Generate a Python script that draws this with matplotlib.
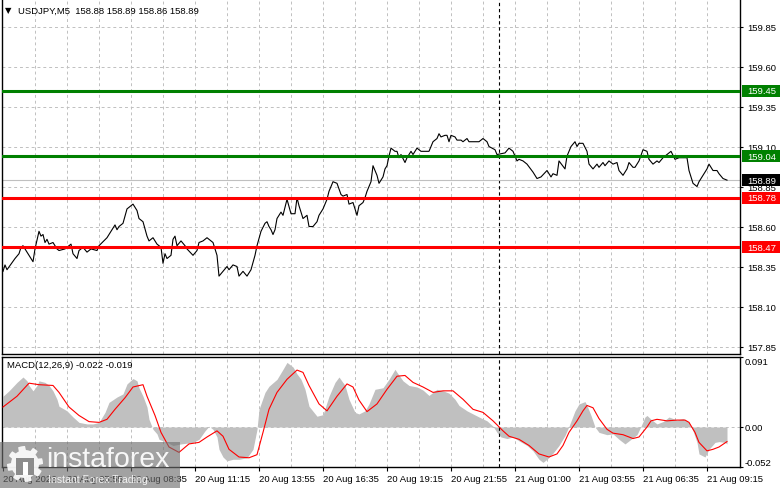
import numpy as np
import matplotlib.pyplot as plt
from matplotlib.patches import Rectangle, Polygon
from matplotlib.transforms import blended_transform_factory

plt.rcParams['font.family'] = ['Liberation Sans', 'DejaVu Sans']

# 5-minute bars, 0 = first visible bar; close price
price_bar = [0, 1, 2, 6, 8, 9, 10, 12, 15, 16, 18, 19, 20, 21, 22, 23, 25, 27, 28, 31,
             32, 34, 35, 37, 38, 40, 42, 44, 47, 48, 52, 54, 56, 57, 58, 60, 62, 65, 67, 68,
             70, 72, 73, 75, 77, 79, 80, 81, 82, 84, 85, 86, 87, 89, 91, 92, 95, 97, 98, 100,
             102, 105, 107, 108, 110, 112, 113, 115, 117, 118, 120, 122, 124, 126, 127, 129, 131, 132, 133, 134,
             135, 136, 137, 139, 140, 142, 144, 146, 147, 148, 150, 152, 153, 155, 157, 158, 160, 162, 163, 165,
             167, 169, 170, 172, 173, 175, 177, 178, 180, 181, 182, 184, 185, 186, 187, 188, 190, 191, 192, 193,
             194, 196, 197, 198, 199, 201, 202, 204, 205, 206, 207, 209, 211, 213, 215, 217, 218, 219, 221, 222,
             223, 224, 226, 227, 229, 230, 232, 233, 235, 237, 238, 240, 242, 243, 246, 247, 251, 253, 255, 257,
             258, 260, 262, 265, 267, 269, 272, 274, 275, 277, 278, 281, 282, 284, 286, 287, 288, 290, 292, 293,
             295, 297, 298, 300, 301, 303, 305, 307, 308, 310, 312, 313, 315, 316, 318, 320, 322, 323, 325, 327,
             328, 330, 332, 334, 336, 338, 342, 343, 345, 347, 348, 350, 352, 353, 355, 357, 358, 360, 362]
price_close = [158.32, 158.36, 158.33, 158.40, 158.43, 158.47, 158.48, 158.44, 158.38, 158.46,
               158.57, 158.54, 158.55, 158.50, 158.52, 158.49, 158.50, 158.46, 158.45, 158.46,
               158.47, 158.49, 158.43, 158.40, 158.45, 158.47, 158.44, 158.46, 158.45, 158.48,
               158.53, 158.57, 158.61, 158.58, 158.60, 158.62, 158.71, 158.74, 158.70, 158.65,
               158.63, 158.54, 158.51, 158.53, 158.49, 158.47, 158.37, 158.43, 158.40, 158.42,
               158.52, 158.54, 158.48, 158.51, 158.48, 158.46, 158.42, 158.45, 158.50, 158.51,
               158.53, 158.50, 158.42, 158.29, 158.32, 158.35, 158.33, 158.36, 158.35, 158.29,
               158.32, 158.29, 158.33, 158.42, 158.48, 158.57, 158.62, 158.63, 158.60, 158.58,
               158.55, 158.58, 158.65, 158.69, 158.67, 158.77, 158.68, 158.68, 158.78, 158.73,
               158.65, 158.67, 158.60, 158.60, 158.63, 158.67, 158.71, 158.77, 158.82, 158.88,
               158.87, 158.80, 158.79, 158.80, 158.74, 158.75, 158.67, 158.73, 158.75, 158.78,
               158.82, 158.88, 158.98, 158.95, 158.92, 158.87, 158.91, 158.96, 158.98, 159.04,
               159.09, 159.07, 159.07, 159.03, 159.05, 159.00, 159.03, 159.07, 159.05, 159.07,
               159.09, 159.07, 159.07, 159.07, 159.13, 159.15, 159.18, 159.16, 159.17, 159.17,
               159.13, 159.17, 159.16, 159.14, 159.14, 159.13, 159.15, 159.13, 159.13, 159.13,
               159.13, 159.15, 159.13, 159.10, 159.08, 159.05, 159.06, 159.09, 159.07, 159.01,
               159.02, 159.01, 158.99, 158.94, 158.90, 158.91, 158.95, 158.91, 158.93, 158.92,
               159.01, 158.96, 159.04, 159.10, 159.13, 159.10, 159.12, 159.12, 159.07, 158.99,
               158.96, 158.99, 158.97, 159.00, 158.98, 159.01, 158.99, 159.00, 158.95, 158.92,
               158.96, 159.00, 158.97, 158.97, 159.01, 159.08, 159.07, 159.02, 158.99, 159.01,
               159.00, 159.03, 159.05, 159.07, 159.02, 159.03, 159.03, 158.95, 158.87, 158.85,
               158.88, 158.92, 158.96, 158.99, 158.95, 158.95, 158.93, 158.90, 158.89]

# MACD(12,26,9) histogram (main) and signal line
macd_bar = [0, 3, 7, 10, 12, 13, 15, 17, 18, 21, 23, 25, 27, 28, 32, 35, 38, 42, 45, 48,
            51, 53, 57, 60, 62, 65, 67, 68, 70, 72, 73, 75, 77, 78, 82, 85, 89, 92, 95, 98,
            101, 103, 105, 107, 108, 110, 112, 115, 118, 122, 125, 127, 128, 131, 133, 137, 140, 142, 145, 147,
            149, 151, 153, 157, 160, 163, 166, 168, 171, 173, 176, 178, 181, 183, 186, 190, 193, 196, 197, 200,
            203, 207, 210, 213, 217, 220, 223, 226, 228, 232, 235, 238, 242, 245, 247, 249, 252, 255, 258, 262,
            265, 268, 270, 272, 275, 278, 281, 283, 286, 288, 291, 292, 294, 296, 298, 302, 305, 308, 311, 313,
            317, 319, 321, 322, 324, 327, 330, 333, 337, 340, 343, 345, 347, 348, 351, 353, 356, 358, 361, 362]
macd_hist = [0.040, 0.047, 0.058, 0.065, 0.060, 0.054, 0.047, 0.054, 0.060, 0.058,
             0.054, 0.047, 0.036, 0.027, 0.021, 0.013, 0.006, 0.004, 0.004, 0.006,
             0.019, 0.032, 0.039, 0.043, 0.056, 0.063, 0.060, 0.051, 0.040, 0.026,
             0.010, -0.003, -0.009, -0.016, -0.020, -0.024, -0.022, -0.021, -0.020, -0.016,
             -0.005, 0.001, -0.003, -0.013, -0.029, -0.039, -0.044, -0.042, -0.042, -0.040,
             -0.029, -0.003, 0.023, 0.045, 0.053, 0.062, 0.075, 0.084, 0.078, 0.069,
             0.062, 0.049, 0.027, 0.014, 0.016, 0.040, 0.058, 0.065, 0.054, 0.036,
             0.019, 0.017, 0.021, 0.030, 0.049, 0.051, 0.062, 0.075, 0.071, 0.060,
             0.054, 0.052, 0.048, 0.041, 0.049, 0.047, 0.044, 0.036, 0.028, 0.021,
             0.017, 0.013, 0.008, 0.001, -0.007, -0.013, -0.015, -0.013, -0.018, -0.024,
             -0.031, -0.042, -0.046, -0.042, -0.034, -0.024, -0.011, 0.001, 0.021, 0.030,
             0.033, 0.028, 0.015, 0.000, -0.007, -0.010, -0.009, -0.016, -0.022, -0.018,
             -0.010, 0.001, 0.013, 0.015, 0.010, 0.004, 0.007, 0.013, 0.009, 0.011,
             0.006, -0.005, -0.020, -0.035, -0.039, -0.029, -0.020, -0.019, -0.020, -0.022]
signal_bar = [0, 7, 13, 18, 25, 28, 33, 38, 43, 48, 52, 56, 61, 65, 70, 72, 76, 79, 83, 88,
              93, 98, 102, 107, 110, 113, 118, 123, 127, 130, 133, 137, 142, 147, 150, 153, 158, 162, 167, 172,
              175, 178, 182, 187, 192, 197, 201, 205, 210, 215, 220, 225, 230, 235, 240, 245, 250, 253, 258, 263,
              268, 273, 277, 280, 283, 287, 290, 292, 295, 298, 302, 305, 310, 315, 318, 322, 324, 327, 332, 337,
              341, 343, 346, 348, 352, 355, 358, 362]
signal_val = [0.026, 0.040, 0.057, 0.055, 0.054, 0.045, 0.026, 0.015, 0.007, 0.006,
              0.010, 0.023, 0.038, 0.052, 0.055, 0.040, 0.015, -0.007, -0.026, -0.033,
              -0.022, -0.020, -0.013, -0.005, -0.012, -0.029, -0.039, -0.040, -0.036, -0.007,
              0.023, 0.045, 0.062, 0.074, 0.071, 0.054, 0.030, 0.021, 0.040, 0.056,
              0.052, 0.035, 0.020, 0.030, 0.049, 0.066, 0.067, 0.058, 0.052, 0.045,
              0.047, 0.047, 0.036, 0.023, 0.019, 0.008, -0.005, -0.012, -0.016, -0.024,
              -0.035, -0.039, -0.035, -0.024, -0.007, 0.008, 0.021, 0.028, 0.025, 0.011,
              -0.003, -0.008, -0.010, -0.015, -0.013, 0.000, 0.008, 0.010, 0.008, 0.009,
              0.009, 0.006, -0.007, -0.020, -0.031, -0.029, -0.026, -0.019]

level_prices = [159.45, 159.04, 158.78, 158.47]
level_colors = ['#008000', '#008000', '#ff0000', '#ff0000']
last_price = 158.89
ohlc_text = "USDJPY,M5  158.88 158.89 158.86 158.89"
macd_text = "MACD(12,26,9) -0.022 -0.019"

price_ticks = [159.85, 159.60, 159.35, 159.10, 158.85, 158.60, 158.35, 158.10, 157.85]
macd_ticks = [0.091, 0.00, -0.052]
macd_tick_labels = ["0.091", "0.00", "-0.052"]
time_tick_bars = [0, 32, 64, 96, 128, 160, 192, 224, 256, 288, 320, 352]
time_tick_labels = ["20 Aug 2026", "20 Aug 05:55", "20 Aug 08:35", "20 Aug 11:15",
                    "20 Aug 13:55", "20 Aug 16:35", "20 Aug 19:15", "20 Aug 21:55",
                    "21 Aug 01:00", "21 Aug 03:55", "21 Aug 06:35", "21 Aug 09:15"]
grid_bars = list(range(16, 368, 16))
separator_bar = 248

W, H = 781, 489
FS = 6.8
GRID = '#c0c0c0'

fig = plt.figure(figsize=(W / 100, H / 100), dpi=100)
fig.patch.set_facecolor('white')

ax = fig.add_axes([2 / W, (H - 355) / H, 738 / W, 355 / H])
ax_m = fig.add_axes([2 / W, (H - 468) / H, 738 / W, 110 / H])

# --- price panel ---
ax.set_xlim(-0.5, 368.5)
ax.set_ylim(160.022 - 355 / 160, 160.022)
for b in grid_bars:
    ax.axvline(b, color=GRID, lw=0.7, dashes=(3, 3), zorder=0)
for p in price_ticks:
    ax.axhline(p, color=GRID, lw=0.7, dashes=(3, 3), zorder=0)
ax.axvline(separator_bar, color='black', lw=0.8, dashes=(3, 2.5), zorder=1)
ax.axhline(last_price, color=GRID, lw=0.8, zorder=1)

ax.plot(price_bar, price_close, color='black', lw=0.8, zorder=3)

trans = blended_transform_factory(ax.transAxes, ax.transData)
box_h = 12 / 160
for lvl, col in zip(level_prices, level_colors):
    ax.axhline(lvl, color=col, lw=2.2, zorder=4)
boxes = list(zip(level_prices, level_colors)) + [(last_price, 'black')]
for lvl, col in boxes:
    ax.add_patch(Rectangle((1.0027, lvl - box_h / 2), 0.0515, box_h, transform=trans,
                           facecolor=col, edgecolor='none', clip_on=False, zorder=5))
    ax.text(1.0095, lvl, f"{lvl:.2f}", transform=trans, color='white', fontsize=FS,
            ha='left', va='center', clip_on=False, zorder=6)

ax.yaxis.tick_right()
ax.set_yticks(price_ticks)
ax.set_yticklabels([f"{p:.2f}" for p in price_ticks])
ax.tick_params(axis='y', length=2.2, width=0.8, pad=3, labelsize=FS, colors='black')
ax.set_xticks([])
ax.spines['top'].set_visible(False)
for s in ['left', 'right', 'bottom']:
    ax.spines[s].set_linewidth(1.0)

fig.text(5 / W, 1 - 11 / H, '\u25bc', fontsize=6, family='DejaVu Sans', va='center', ha='left')
fig.text(18 / W, 1 - 11 / H, ohlc_text, fontsize=FS, va='center', ha='left')

# --- MACD panel ---
ax_m.set_xlim(-0.5, 368.5)
ax_m.set_ylim(-0.052, 0.091)
for b in grid_bars:
    ax_m.axvline(b, color=GRID, lw=0.7, dashes=(3, 3), zorder=0)
ax_m.axhline(0, color=GRID, lw=0.7, dashes=(3, 3), zorder=0)
ax_m.fill_between(macd_bar, 0, macd_hist, color='#c0c0c0', lw=0, zorder=1)
ax_m.plot(signal_bar, signal_val, color='#ff0000', lw=0.8, zorder=3)
ax_m.axvline(separator_bar, color='black', lw=0.8, dashes=(3, 2.5), zorder=2)

ax_m.yaxis.tick_right()
ax_m.set_yticks(macd_ticks)
ax_m.set_yticklabels(macd_tick_labels)
ax_m.tick_params(axis='y', length=2.2, width=0.8, pad=1, labelsize=FS)
ylabels = ax_m.get_yticklabels()
ylabels[0].set_va('top')
ylabels[2].set_va('bottom')

ax_m.set_xticks(time_tick_bars)
ax_m.set_xticklabels(time_tick_labels)
ax_m.tick_params(axis='x', length=2.8, width=0.8, pad=2, labelsize=FS)
for lbl in ax_m.get_xticklabels():
    lbl.set_ha('left')
for s in ax_m.spines.values():
    s.set_linewidth(1.0)

fig.text(7 / W, 1 - 366 / H, macd_text, fontsize=FS, va='center', ha='left')

# --- watermark ---
wm = Rectangle((0, 0), 180 / W, 46 / H, transform=fig.transFigure,
               facecolor='#6e6e6e', alpha=0.64, edgecolor='none', zorder=10)
fig.patches.append(wm)
cx, cy = 25 / W, (H - 465) / H
ang = np.linspace(0, 2 * np.pi, 97)
rad = np.where((np.floor(ang / (2 * np.pi / 16)) % 2) == 0, 18, 14)
gear = Polygon(np.column_stack([cx + rad * np.cos(ang) / W, cy + rad * np.sin(ang) / H]),
               closed=True, transform=fig.transFigure, facecolor='white', edgecolor='none',
               alpha=0.9, zorder=11)
fig.patches.append(gear)
fig.patches.append(Rectangle((cx - 9 / W, cy - 11 / H), 18 / W, 17 / H, transform=fig.transFigure,
                             facecolor='#8c8c8c', edgecolor='none', zorder=12))
fig.patches.append(Rectangle((cx - 2.5 / W, cy - 11 / H), 5 / W, 13 / H, transform=fig.transFigure,
                             facecolor='white', edgecolor='none', zorder=13))
fig.text(46 / W, (H - 467) / H, 'instaforex', fontsize=20.5, color='white', alpha=0.92,
         ha='left', va='baseline', zorder=12)
fig.text(48 / W, (H - 480) / H, 'Instant Forex Trading', fontsize=7.6, color='white', alpha=0.85,
         ha='left', va='center', zorder=12)

fig.savefig('out.png', dpi=100, facecolor='white')
